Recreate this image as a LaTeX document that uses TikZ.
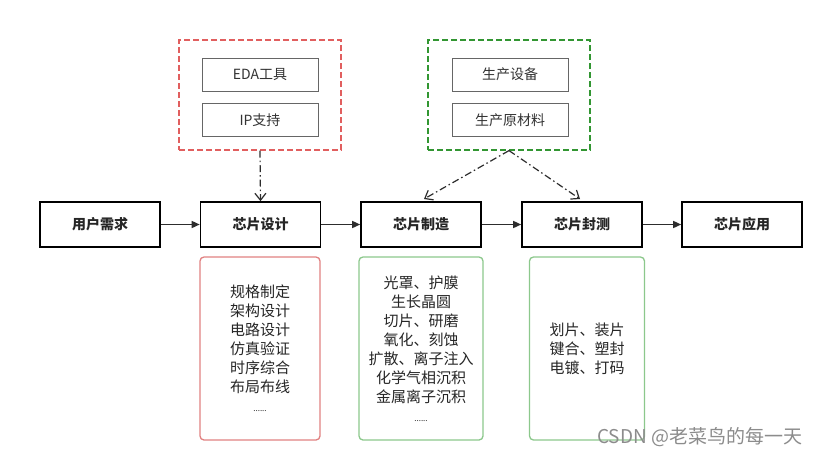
\documentclass[tikz,border=0pt]{standalone}
\usepackage{fontspec}
\setmainfont{Noto Sans CJK SC}
\usetikzlibrary{arrows.meta}
\definecolor{redd}{RGB}{225,95,95}
\definecolor{greend}{RGB}{50,150,50}
\definecolor{redl}{RGB}{225,130,130}
\definecolor{greenl}{RGB}{140,200,140}
\definecolor{arrowc}{RGB}{45,45,45}
\tikzset{
  mainbox/.style={draw=black, line width=1.6pt, minimum width=120pt, minimum height=45pt, font=\fontsize{14}{16}\selectfont\bfseries, text=black!85},
  toolbox/.style={draw=black!60, line width=0.9pt, minimum width=116pt, minimum height=33pt, font=\fontsize{14}{16}\selectfont, text=black!80},
  groupbox/.style={dashed, line width=1.2pt, dash pattern=on 6pt off 3pt, minimum width=162pt, minimum height=110pt},
  listbox/.style={rounded corners=4pt, line width=1.3pt, minimum height=183pt, align=center, font=\fontsize{15}{19}\selectfont, text=black!85},
  flow/.style={-{Triangle[length=8pt,width=7pt]}, line width=1.4pt, draw=arrowc},
  support/.style={-{Straight Barb[length=7pt,width=11pt]}, line width=1.2pt, draw=arrowc, dash pattern=on 7pt off 3pt on 1.5pt off 3pt},
  dots/.style={font=\fontsize{8}{19}\selectfont}
}
\begin{document}
\begin{tikzpicture}[x=1pt,y=-1pt]
\fill[white] (0,0) rectangle (825,456);
\useasboundingbox (0,0) rectangle (825,456);

% group boxes
\node[groupbox, draw=redd] (g1) at (260,95) {};
\node[groupbox, draw=greend] (g2) at (509,95) {};
\node[toolbox] (eda) at (260,74.5) {EDA工具};
\node[toolbox] (ip) at (260,120) {IP支持};
\node[toolbox] (sb) at (510,74.5) {生产设备};
\node[toolbox] (yl) at (510,120) {生产原材料};

% main boxes
\node[mainbox] (m1) at (100,224.5) {用户需求};
\node[mainbox] (m2) at (260.5,224.5) {芯片设计};
\node[mainbox] (m3) at (421,224.5) {芯片制造};
\node[mainbox] (m4) at (582,224.5) {芯片封测};
\node[mainbox] (m5) at (742,224.5) {芯片应用};

\draw[flow] (m1) -- (m2);
\draw[flow] (m2) -- (m3);
\draw[flow] (m3) -- (m4);
\draw[flow] (m4) -- (m5);

\coordinate (t3) at (424,199);
\coordinate (t4) at (580,199);
\draw[support] (g1.south) -- (m2.north);
\draw[support] (g2.south) -- (t3);
\draw[support] (g2.south) -- (t4);

% list boxes
\node[listbox, draw=redl, minimum width=120pt] (l1) at (260,348.5) {规格制定\\架构设计\\电路设计\\仿真验证\\时序综合\\布局布线\\{\fontsize{8}{10}\selectfont ......}};
\node[listbox, draw=greenl, minimum width=124pt] (l2) at (421,348.5) {光罩、护膜\\生长晶圆\\切片、研磨\\氧化、刻蚀\\扩散、离子注入\\化学气相沉积\\金属离子沉积\\{\fontsize{8}{10}\selectfont ......}};
\node[listbox, draw=greenl, minimum width=115pt] (l3) at (587,348.5) {划片、装片\\键合、塑封\\电镀、打码};

\node[text=black!45, font=\fontsize{19}{21}\selectfont, anchor=west, inner sep=0pt] (wm) at (597,437) {CSDN @老菜鸟的每一天};
\end{tikzpicture}
\end{document}
